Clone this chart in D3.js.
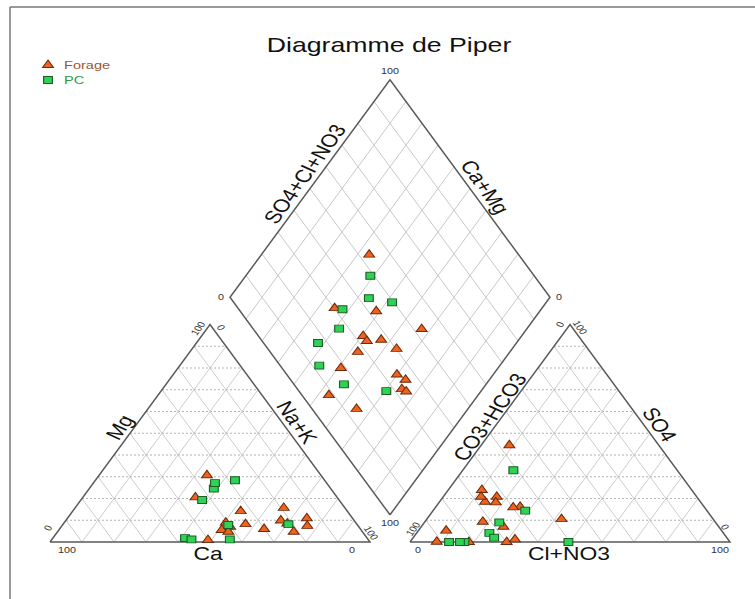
<!DOCTYPE html>
<html><head><meta charset="utf-8">
<script src="https://cdn.jsdelivr.net/npm/d3@7"></script>
<style>
body{margin:0;background:#fff}
svg{display:block}
text{font-family:"Liberation Sans",Arial,sans-serif}
</style>
</head><body>
<svg id="chart" width="755" height="599"></svg>
<script>
// ---------- DATA (percent of meq) ----------
const seriesNames = ["Forage", "PC"];
const forageCa   = [35.6,44.3,50.2,22.9,40.6,40.2,34.8,30.1,33.3,43.6,21.6,21.5,14.3,15.9,41.9,19.1];
const forageMg   = [30.7,20.5, 0.9, 9.9, 8.9, 7.0, 8.2, 6.0,14.2, 5.5, 8.5, 4.7,10.9, 7.4, 4.7,15.7];
const forageNaK  = [33.7,35.2,48.9,67.2,50.5,52.8,57.0,63.9,52.5,50.9,69.9,73.8,74.8,76.7,53.4,65.2];
const forageHCO3 = [46.7,69.8,57.5,47.4,67.3,67.3,62.5,59.8,72.6,81.6,65.6,64.1,67.4,66.6,91.6,86.1];
const forageSO4  = [44.5, 0.0,16.2,10.5,18.5, 7.0,20.8,15.9, 9.3, 0.0,23.9,18.2,20.8, 1.2, 0.1, 5.2];
const forageCl   = [ 8.8,30.2,26.3,42.1,14.2,25.7,16.7,24.3,18.1,18.4,10.5,17.7,11.8,32.2, 8.3, 8.7];

const pcCa   = [36.5,28.0,40.4,42.8,56.9,34.9,55.2,43.2,21.4];
const pcMg   = [24.6,28.4, 7.8,19.3, 1.8,27.1, 1.2, 1.2, 8.2];
const pcNaK  = [38.9,43.6,51.8,37.9,41.3,38.0,43.6,55.6,70.4];
const pcHCO3 = [51.2,56.8,50.5,67.6,73.1,83.0,87.8,84.4,72.7];
const pcSO4  = [33.0,14.4, 0.0, 9.0, 4.2, 0.0, 0.0, 0.0, 2.0];
const pcCl   = [15.8,28.8,49.5,23.4,22.7,17.0,12.2,15.6,25.3];

const tickLabels = ["0", "100"];
const title = "Diagramme de Piper";

// ---------- GEOMETRY ----------
const H = Math.sqrt(3) / 2;   // triangle height (side = 1)
const G = 0.125;              // gap between the two triangles
const SX = 1.27;              // horizontal stretch of the figure

const x = d3.scaleLinear().domain([0, 2 + G]).range([50, 730]);
const y = d3.scaleLinear().domain([0, H]).range([542, 324.5]);

const svg = d3.select("#chart");

function toSamples(ca, mg, nak, hco3, so4, cl) {
  return ca.map((c, i) => ({ca: c, mg: mg[i], nak: nak[i], hco3: hco3[i], so4: so4[i], cl: cl[i]}));
}
const forage = toSamples(forageCa, forageMg, forageNaK, forageHCO3, forageSO4, forageCl);
const pc = toSamples(pcCa, pcMg, pcNaK, pcHCO3, pcSO4, pcCl);

// unit-coordinate projections
const cation = d => [0.5 * d.mg / 100 + d.nak / 100, H * d.mg / 100];
const anion = d => [1 + G + 0.5 * d.so4 / 100 + d.cl / 100, H * d.so4 / 100];
const diamond = d => {
  const a = (d.ca + d.mg) / 100, c = (d.so4 + d.cl) / 100;
  return [1 + G / 2 - 0.5 * a + 0.5 * c, G * H + H * a + H * c];
};

const line = d3.line().x(p => x(p[0])).y(p => y(p[1]));

// frame
svg.append("line").attr("x1", 10).attr("y1", 7).attr("x2", 755).attr("y2", 7)
  .attr("stroke", "#777").attr("stroke-width", 1.5);
svg.append("line").attr("x1", 10).attr("y1", 7).attr("x2", 10).attr("y2", 599)
  .attr("stroke", "#777").attr("stroke-width", 1.5);

// ---------- GRID ----------
const grid = svg.append("g");
const steps = d3.range(1, 10).map(i => i / 10);
[0, 1 + G].forEach(off => {
  steps.forEach(t => {
    grid.append("path").attr("d", line([[off + 0.5 * t, H * t], [off + 1 - 0.5 * t, H * t]]))
      .attr("stroke", "#aaaaaa").attr("stroke-width", 0.9).attr("stroke-dasharray", "2,2").attr("fill", "none");
    grid.append("path").attr("d", line([[off + t, 0], [off + 0.5 + 0.5 * t, H * (1 - t)]]))
      .attr("stroke", "#cccccc").attr("stroke-width", 1).attr("fill", "none");
    grid.append("path").attr("d", line([[off + t, 0], [off + 0.5 * t, H * t]]))
      .attr("stroke", "#cccccc").attr("stroke-width", 1).attr("fill", "none");
  });
});
const B = [1 + G / 2, G * H];
steps.forEach(t => {
  const p1 = [B[0] - 0.5 * t, B[1] + H * t];
  grid.append("path").attr("d", line([p1, [p1[0] + 0.5, p1[1] + H]]))
    .attr("stroke", "#c8c8c8").attr("stroke-width", 1).attr("fill", "none");
  const p2 = [B[0] + 0.5 * t, B[1] + H * t];
  grid.append("path").attr("d", line([p2, [p2[0] - 0.5, p2[1] + H]]))
    .attr("stroke", "#c8c8c8").attr("stroke-width", 1).attr("fill", "none");
});

// ---------- OUTLINES ----------
const outl = svg.append("g").attr("fill", "none").attr("stroke", "#5a5a5a").attr("stroke-width", 1.5);
outl.append("path").attr("d", line([[0, 0], [1, 0], [0.5, H], [0, 0]]));
outl.append("path").attr("d", line([[1 + G, 0], [2 + G, 0], [1.5 + G, H], [1 + G, 0]]));
outl.append("path").attr("d", line([B, [B[0] + 0.5, B[1] + H], [B[0], B[1] + 2 * H], [B[0] - 0.5, B[1] + H], B]));

// ---------- POINTS ----------
const triSym = d3.symbol(d3.symbolTriangle, 32)();
const sqSym = d3.symbol(d3.symbolSquare, 48)();
const triFill = "#ec6420", triStroke = "#6b2a0a";
const sqFill = "#2fd255", sqStroke = "#1b5e27";

function drawPoints(data, sym, fill, stroke) {
  const g = svg.append("g");
  [cation, anion, diamond].forEach(proj => {
    g.selectAll(null).data(data).enter().append("path")
      .attr("d", sym)
      .attr("transform", d => { const p = proj(d); return `translate(${x(p[0])},${y(p[1])}) scale(${SX},1)`; })
      .attr("fill", fill).attr("stroke", stroke).attr("stroke-width", 0.9);
  });
}
drawPoints(forage, triSym, triFill, triStroke);
drawPoints(pc, sqSym, sqFill, sqStroke);

// ---------- TEXT ----------
function txt(s, px, py, rot, size, color) {
  svg.append("text").text(s)
    .attr("transform", `translate(${px},${py}) scale(${SX},1) rotate(${rot})`)
    .attr("text-anchor", "middle").attr("dy", "0.35em")
    .attr("font-size", size).attr("fill", color);
}
// title
txt(title, 389, 45, 0, 21, "#111");

// axis labels (placed beside edges)
const lab = 18, lc = "#111";
txt("Ca", x(0.5) - 2, y(0) + 12, 0, lab, lc);
txt("Cl+NO3", x(1.5 + G) - 1, y(0) + 12, 0, lab, lc);
txt("Mg", x(0.5 * 0.528) - 15, y(H * 0.528), -60, lab, lc);
txt("Na+K", x(1 - 0.5 * 0.55) + 15, y(H * 0.55), 60, lab, lc);
txt("CO3+HCO3", x(1 + G + 0.5 * 0.574) - 12, y(H * 0.574), -60, lab, lc);
txt("SO4", x(2 + G - 0.5 * 0.54) + 16, y(H * 0.54), 60, lab, lc);
txt("SO4+Cl+NO3", x(B[0] - 0.5 + 0.5 * 0.567) - 16, y(B[1] + H + H * 0.567), -60, lab, lc);
txt("Ca+Mg", x(B[0] + 0.5 - 0.5 * 0.507) + 16, y(B[1] + H + H * 0.507), 60, lab, lc);

// tick labels
const ts = 8.5, tc = "#333";
const [t0, t100] = tickLabels;
// left triangle
txt(t100, x(0) + 17, y(0) + 8, 0, ts, tc);
txt(t0, x(0) - 2, y(0) - 14, -60, ts, tc);
txt(t0, x(1) - 18, y(0) + 8, 0, ts, tc);
txt(t100, x(1) + 1, y(0) - 9, 60, ts, tc);
txt(t100, x(0.5) - 12, y(H) + 4, -60, ts, tc);
txt(t0, x(0.5) + 11, y(H) + 3, 60, ts, tc);
// right triangle
txt(t0, x(1 + G) + 8, y(0) + 8, 0, ts, tc);
txt(t100, x(1 + G) + 3, y(0) - 13, -60, ts, tc);
txt(t100, x(2 + G) - 10, y(0) + 8, 0, ts, tc);
txt(t0, x(2 + G) - 5, y(0) - 15, 60, ts, tc);
txt(t0, x(1.5 + G) - 10, y(H), -60, ts, tc);
txt(t100, x(1.5 + G) + 10, y(H) + 3, 60, ts, tc);
// diamond
txt(t100, x(B[0]), y(B[1] + 2 * H) - 9, 0, ts, tc);
txt(t0, x(B[0] - 0.5) - 9, y(B[1] + H), 0, ts, tc);
txt(t0, x(B[0] + 0.5) + 9, y(B[1] + H), 0, ts, tc);
txt(t100, x(B[0]), y(B[1]) + 8, 0, ts, tc);

// ---------- LEGEND ----------
const leg = svg.append("g");
const legColors = ["#9c5530", "#2f9a3f"];
seriesNames.forEach((n, i) => {
  const ly = 65 + i * 15;
  leg.append("path").attr("d", i === 0 ? triSym : sqSym)
    .attr("transform", `translate(48,${ly}) scale(${SX},1)`)
    .attr("fill", i === 0 ? triFill : sqFill).attr("stroke", i === 0 ? triStroke : sqStroke).attr("stroke-width", 0.9);
  leg.append("text").text(n)
    .attr("transform", `translate(64,${ly}) scale(${SX},1)`)
    .attr("dy", "0.35em").attr("font-size", 11.5).attr("fill", legColors[i]);
});
</script>
</body></html>
